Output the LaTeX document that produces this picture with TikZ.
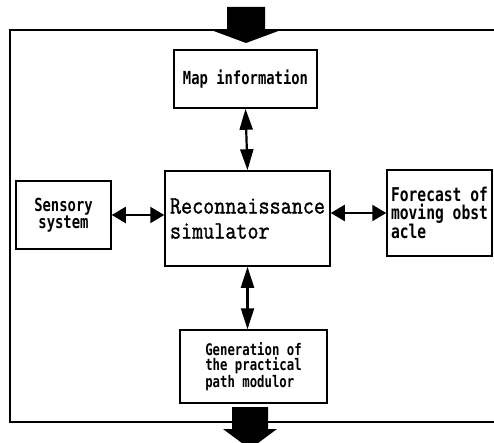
\documentclass[tikz,border=0pt]{standalone}
\usepackage{fontspec}
\usetikzlibrary{arrows.meta}
\newfontfamily\gothfont[FakeStretch=0.77]{DejaVu Sans Mono}
\newfontfamily\minfont[FakeStretch=0.86,FakeBold=1.2]{Latin Modern Mono}

\tikzset{
  hdouble/.style={{Triangle[length=14pt,width=16pt]}-{Triangle[length=14pt,width=16pt]}},
  vdouble/.style={{Triangle[length=21pt,width=13pt]}-{Triangle[length=21pt,width=13pt]}}
}

\begin{document}
\begin{tikzpicture}[x=1pt,y=-1pt]

        \useasboundingbox (0,0) rectangle (494,443);
        \clip (0,0) rectangle (494,443);

        % outer frame, open on the right
        \draw[line width=1.2pt] (494,30) -| (10,422) -- (494,422);

        \begin{scope}[every node/.style={draw, line width=1.5pt, inner sep=0pt,
            font=\gothfont\bfseries\fontsize{18}{16}\selectfont}]
          \node[minimum width=143pt, minimum height=58pt] (map) at (245.5,79) {Map information};
          \node[minimum width=165pt, minimum height=95pt, align=left,
                font=\minfont\fontsize{25}{25}\selectfont] (recon) at (247.5,218.5)
                {Reconnaissance\\simulator};
          \node[minimum width=95pt, minimum height=68pt, align=center] (sens) at (63.5,215)
                {Sensory\\system};
          \node[minimum width=105pt, minimum height=86pt, align=left,
                font=\gothfont\bfseries\fontsize{19}{18}\selectfont] (fore) at (439.5,213)
                {Forecast of\\moving obst\\acle};
          \node[minimum width=147pt, minimum height=73pt, align=left,
                font=\gothfont\bfseries\fontsize{16}{15}\selectfont] (gen) at (253.5,366.5)
                {Generation of\\the practical\\path modulor};
        \end{scope}

        \coordinate (in)  at (246,30);
        \coordinate (out) at (250,407);

        % big block arrows, in and out
        \fill (in) ++(-19,-23) -- ++(38,0) -- ++(0,23) -- ++(16,0) -- ++(-35,13)
              -- ++(-35,-13) -- ++(16,0) -- cycle;
        \fill (out) ++(-18,0) -- ++(36,0) -- ++(0,22) -- ++(9,0) -- ++(-27,20)
              -- ++(-27,-20) -- ++(9,0) -- cycle;

        \begin{scope}[every edge/.style={draw, line width=2.2pt}]
          \path (recon.north) edge[vdouble] (map.south);
          \path (recon.south) edge[vdouble] (recon.south |- gen.north);
          \path (sens.east) edge[hdouble] (sens.east -| recon.west);
          \path (fore.west -| recon.east) edge[hdouble] (fore.west);
        \end{scope}

      \end{tikzpicture}
\end{document}
